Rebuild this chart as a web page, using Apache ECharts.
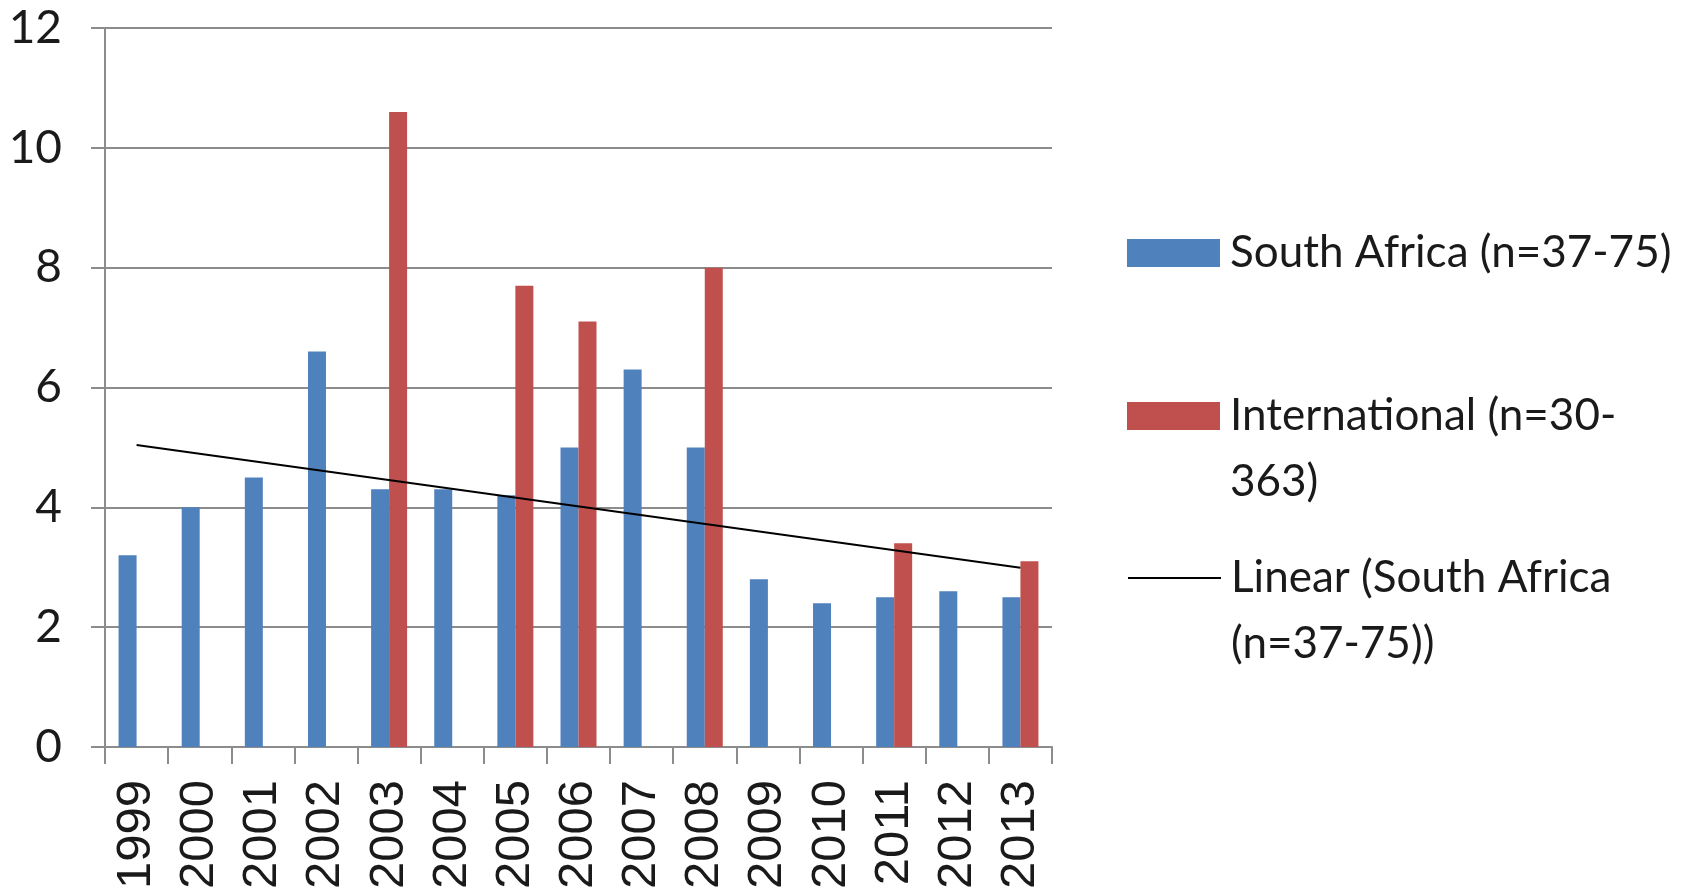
<!DOCTYPE html>
<html><head><meta charset="utf-8">
<script src="https://cdn.jsdelivr.net/npm/echarts@6/dist/echarts.min.js"></script>
<style>html,body{margin:0;padding:0;background:#fff}#c{width:1684px;height:889px}</style>
</head><body><div id="c"></div>
<script>
const years = ['1999','2000','2001','2002','2003','2004','2005','2006','2007','2008','2009','2010','2011','2012','2013'];
const southAfrica = [3.2, 4.0, 4.5, 6.6, 4.3, 4.3, 4.2, 5.0, 6.3, 5.0, 2.8, 2.4, 2.5, 2.6, 2.5];
const international = [null, null, null, null, 10.6, null, 7.7, 7.1, null, 8.0, null, null, 3.4, null, 3.1];
const trendYears = ['1999', '2013'];
const trendValues = [5.04, 2.99];
const yMin = 0, yMax = 12, yStep = 2;
const seriesNames = ['South Africa (n=37-75)', 'International (n=30-363)', 'Linear (South Africa (n=37-75))'];
const legendLabels = ['South Africa (n=37-75)', '\nInternational (n=30-\n363)', '\nLinear (South Africa\n(n=37-75))'];

const BLUE = '#4F81BD', RED = '#C0504D', GRID = '#8c8c8c', TXT = '#1a1a1a';
const LH = 66;
const legendText = {fontFamily: 'Lato', fontSize: 44, color: TXT, lineHeight: LH, padding: [0, 0, 0, 5]};
const legendBase = {orient: 'vertical', left: 1127, itemWidth: 93, itemHeight: 28, padding: 0, selectedMode: false, textStyle: legendText};

const chart = echarts.init(document.getElementById('c'), null, {renderer: 'canvas'});
chart.setOption({
  animation: false,
  backgroundColor: '#fff',
  grid: {left: 105, right: 632, top: 28, bottom: 142, containLabel: false, outerBoundsMode: 'none'},
  legend: [
    Object.assign({}, legendBase, {top: 253 - LH / 2, data: [{name: seriesNames[0], icon: 'rect'}], formatter: () => legendLabels[0]}),
    Object.assign({}, legendBase, {top: 416 - 1.5 * LH, data: [{name: seriesNames[1], icon: 'rect'}], formatter: () => legendLabels[1]}),
    Object.assign({}, legendBase, {top: 578 - 1.5 * LH, data: [{name: seriesNames[2], itemStyle: {opacity: 0, color: 'rgba(0,0,0,0)', borderWidth: 0}}], formatter: () => legendLabels[2]})
  ],
  xAxis: {
    type: 'category', data: years, boundaryGap: true,
    axisLine: {show: true, lineStyle: {color: GRID, width: 2}},
    axisTick: {show: true, alignWithLabel: false, length: 17, lineStyle: {color: GRID, width: 2}},
    axisLabel: {show: true, interval: 0, rotate: 90, margin: 33, fontFamily: 'Liberation Sans', fontSize: 49, color: TXT},
    splitLine: {show: false}
  },
  yAxis: {
    type: 'value', min: yMin, max: yMax, interval: yStep,
    axisLine: {show: true, lineStyle: {color: GRID, width: 2}},
    axisTick: {show: true, length: 14, lineStyle: {color: GRID, width: 2}},
    axisLabel: {show: true, margin: 43, fontFamily: 'Lato', fontSize: 46, color: TXT},
    splitLine: {show: true, lineStyle: {color: GRID, width: 2}}
  },
  series: [
    {name: seriesNames[0], type: 'bar', data: southAfrica, barWidth: 18, barGap: '0%', itemStyle: {color: BLUE}},
    {name: seriesNames[1], type: 'bar', data: international, barWidth: 18, barGap: '0%', itemStyle: {color: RED}},
    {name: seriesNames[2], type: 'line', data: trendYears.map((y, i) => [y, trendValues[i]]), symbol: 'none', z: 5,
     itemStyle: {color: '#000'}, lineStyle: {color: '#000', width: 2}}
  ]
});
</script></body></html>
